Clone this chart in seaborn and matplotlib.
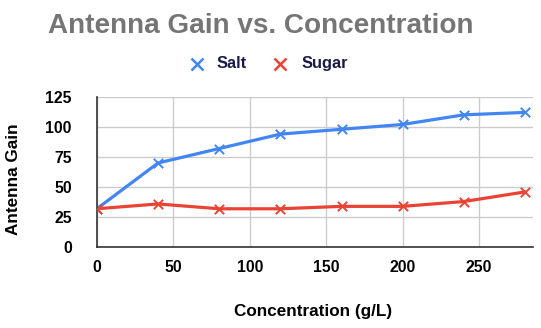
import matplotlib
matplotlib.use("Agg")
import matplotlib.pyplot as plt
from matplotlib.lines import Line2D
import seaborn as sns
import pandas as pd

concentration = [0, 40, 80, 120, 160, 200, 240, 280]
salt = [32, 70, 82, 94, 98, 102, 110, 112]
sugar = [32, 36, 32, 32, 34, 34, 38, 46]
x_ticks = [0, 50, 100, 150, 200, 250]
y_ticks = [0, 25, 50, 75, 100, 125]

df = pd.DataFrame({
    "Concentration (g/L)": concentration * 2,
    "Antenna Gain": salt + sugar,
    "Series": ["Salt"] * len(salt) + ["Sugar"] * len(sugar),
})

sns.set_theme(style="white")
plt.rcParams["font.family"] = ["Liberation Sans", "DejaVu Sans"]

fig = plt.figure(figsize=(5.41, 3.28), dpi=100)
ax = fig.add_axes([0.179, 0.246, 0.807, 0.459])

palette = {"Salt": "#4285F4", "Sugar": "#EA4335"}
sns.lineplot(data=df, x="Concentration (g/L)", y="Antenna Gain", hue="Series",
             palette=palette, linewidth=2.3, ax=ax, legend=False)
for name, vals in (("Salt", salt), ("Sugar", sugar)):
    ax.scatter(concentration, vals, marker="x", s=45, color=palette[name],
               linewidths=1.4, zorder=4)

ax.set_xlim(0, 285.5)
ax.set_ylim(0, 125)
ax.set_xticks(x_ticks)
ax.set_yticks(y_ticks)
ax.grid(True, color="#cccccc", linewidth=1)
ax.set_axisbelow(True)
for side in ("top", "right"):
    ax.spines[side].set_visible(False)
for side in ("left", "bottom"):
    ax.spines[side].set_color("#333333")
    ax.spines[side].set_linewidth(1.2)
ax.tick_params(axis="both", length=0, labelsize=11.3, labelcolor="black")
ax.tick_params(axis="x", pad=9)
ax.tick_params(axis="y", pad=18)
for lbl in ax.get_xticklabels() + ax.get_yticklabels():
    lbl.set_fontweight("bold")
ax.set_xlabel("")
ax.set_ylabel("")

fig.text(0.5786, 0.049, "Concentration (g/L)", ha="center", va="center",
         fontsize=12.3, fontweight="bold", color="black")
fig.text(0.025, 0.454, "Antenna Gain", ha="center", va="center", rotation=90,
         fontsize=12.3, fontweight="bold", color="black")

fig.text(0.4825, 0.92, "Antenna Gain vs. Concentration", ha="center",
         va="center", fontsize=20.1, fontweight="bold", color="#757575")

# legend row
legend_y = 0.805
for name, mx, tx in (("Salt", 0.3636, 0.401), ("Sugar", 0.5176, 0.5577)):
    fig.lines.append(Line2D([mx], [legend_y], marker="x", markersize=8,
                            markeredgewidth=1.8, color=palette[name],
                            transform=fig.transFigure))
    fig.text(tx, legend_y, name, ha="left", va="center", fontsize=11.8,
             fontweight="bold", color="#1c1a4a")

fig.savefig("out.png", dpi=100)
